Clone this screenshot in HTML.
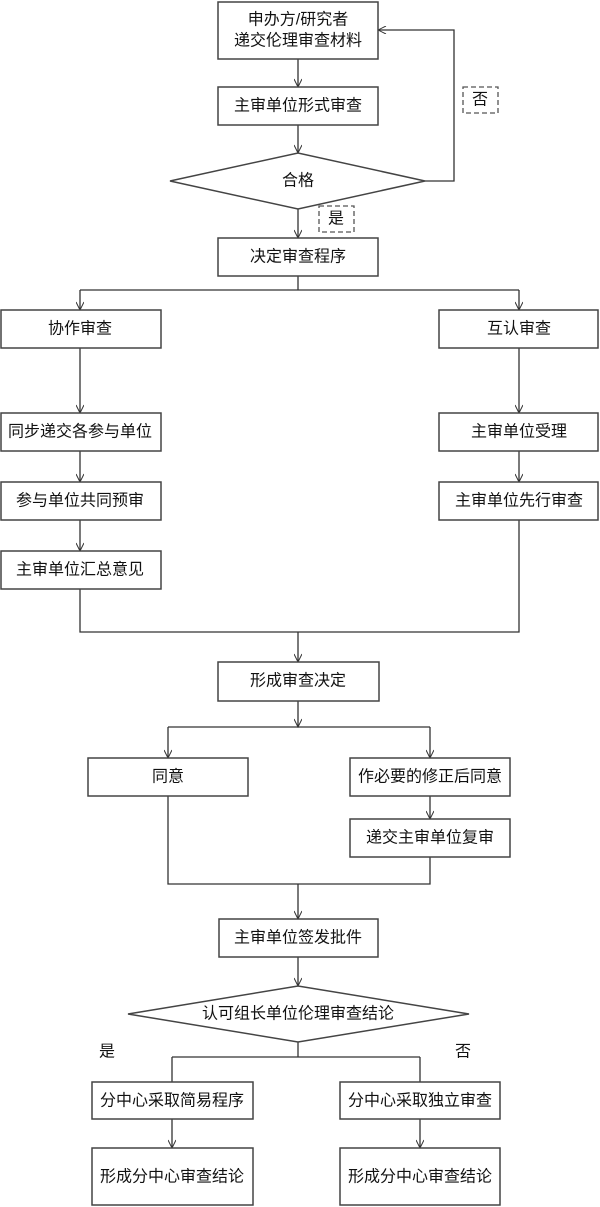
<!DOCTYPE html>
<html><head><meta charset="utf-8"><style>
html,body{margin:0;padding:0;background:#fff;}
svg{display:block;}
text{font-family:"Liberation Sans","Noto Sans CJK SC",sans-serif;font-size:16px;fill:#111;text-anchor:middle;dominant-baseline:central;}
.b{fill:#fff;stroke:#444;stroke-width:1.5;}
.l{fill:none;stroke:#333;stroke-width:1.3;}
.a{fill:none;stroke:#333;stroke-width:1;}
.d{fill:none;stroke:#555;stroke-width:1.3;stroke-dasharray:5,3;}
</style></head><body>
<svg width="600" height="1207" viewBox="0 0 600 1207" xmlns="http://www.w3.org/2000/svg">
<defs>
<marker id="ar" markerWidth="10" markerHeight="8" refX="9" refY="4" orient="auto" markerUnits="userSpaceOnUse">
<path d="M1,0 L9,4 L1,8" class="a"/>
</marker>
</defs>
<path class="l" d="M298,59 V87" marker-end="url(#ar)"/>
<path class="l" d="M298,125 V153" marker-end="url(#ar)"/>
<path class="l" d="M425,181 H454 V30 H378" marker-end="url(#ar)"/>
<path class="l" d="M298,209 V238" marker-end="url(#ar)"/>
<path class="l" d="M298,276 V290"/>
<path class="l" d="M80,290 H519"/>
<path class="l" d="M80,290 V310" marker-end="url(#ar)"/>
<path class="l" d="M519,290 V310" marker-end="url(#ar)"/>
<path class="l" d="M80,348 V413" marker-end="url(#ar)"/>
<path class="l" d="M80,451 V482" marker-end="url(#ar)"/>
<path class="l" d="M80,520 V551" marker-end="url(#ar)"/>
<path class="l" d="M519,348 V413" marker-end="url(#ar)"/>
<path class="l" d="M519,451 V482" marker-end="url(#ar)"/>
<path class="l" d="M80,589 V632 H519 V520"/>
<path class="l" d="M298,632 V662" marker-end="url(#ar)"/>
<path class="l" d="M298,701 V727" marker-end="url(#ar)"/>
<path class="l" d="M168,727 H430"/>
<path class="l" d="M168,727 V758" marker-end="url(#ar)"/>
<path class="l" d="M430,727 V758" marker-end="url(#ar)"/>
<path class="l" d="M430,796 V819" marker-end="url(#ar)"/>
<path class="l" d="M168,796 V884 H430 V857"/>
<path class="l" d="M298,884 V919" marker-end="url(#ar)"/>
<path class="l" d="M298,957 V986" marker-end="url(#ar)"/>
<path class="l" d="M298,1042 V1057 M172,1057 H420 M172,1057 V1082 M420,1057 V1082"/>
<path class="l" d="M172,1119 V1148" marker-end="url(#ar)"/>
<path class="l" d="M420,1119 V1148" marker-end="url(#ar)"/>
<rect class="b" x="218" y="2" width="160" height="57"/>
<text x="298" y="20">申办方/研究者</text>
<text x="298" y="41">递交伦理审查材料</text>
<rect class="b" x="218" y="87" width="160" height="38"/>
<text x="298" y="106">主审单位形式审查</text>
<polygon class="b" points="170,181 298,153 425,181 298,209"/>
<text x="298" y="181">合格</text>
<rect class="d" x="463" y="87" width="35" height="26"/>
<text x="480" y="100">否</text>
<rect class="d" x="319" y="206" width="35" height="26"/>
<text x="336" y="219">是</text>
<rect class="b" x="218" y="238" width="160" height="38"/>
<text x="298" y="257">决定审查程序</text>
<rect class="b" x="1" y="310" width="160" height="38"/>
<text x="80" y="329">协作审查</text>
<rect class="b" x="439" y="310" width="159" height="38"/>
<text x="519" y="329">互认审查</text>
<rect class="b" x="1" y="413" width="160" height="38"/>
<text x="80" y="432">同步递交各参与单位</text>
<rect class="b" x="1" y="482" width="160" height="38"/>
<text x="80" y="501">参与单位共同预审</text>
<rect class="b" x="1" y="551" width="160" height="38"/>
<text x="80" y="570">主审单位汇总意见</text>
<rect class="b" x="439" y="413" width="159" height="38"/>
<text x="519" y="432">主审单位受理</text>
<rect class="b" x="439" y="482" width="159" height="38"/>
<text x="519" y="501">主审单位先行审查</text>
<rect class="b" x="218" y="662" width="161" height="39"/>
<text x="298" y="681">形成审查决定</text>
<rect class="b" x="88" y="758" width="160" height="38"/>
<text x="168" y="777">同意</text>
<rect class="b" x="350" y="758" width="160" height="38"/>
<text x="430" y="777">作必要的修正后同意</text>
<rect class="b" x="350" y="819" width="160" height="38"/>
<text x="430" y="838">递交主审单位复审</text>
<rect class="b" x="219" y="919" width="159" height="38"/>
<text x="298" y="938">主审单位签发批件</text>
<polygon class="b" points="128,1014 298,986 469,1014 298,1042"/>
<text x="298" y="1014">认可组长单位伦理审查结论</text>
<text x="107" y="1052">是</text>
<text x="463" y="1052">否</text>
<rect class="b" x="92" y="1082" width="161" height="37"/>
<text x="172" y="1101">分中心采取简易程序</text>
<rect class="b" x="340" y="1082" width="160" height="37"/>
<text x="420" y="1101">分中心采取独立审查</text>
<rect class="b" x="92" y="1148" width="161" height="57"/>
<text x="172" y="1177">形成分中心审查结论</text>
<rect class="b" x="340" y="1148" width="160" height="57"/>
<text x="420" y="1177">形成分中心审查结论</text>
</svg>
</body></html>
